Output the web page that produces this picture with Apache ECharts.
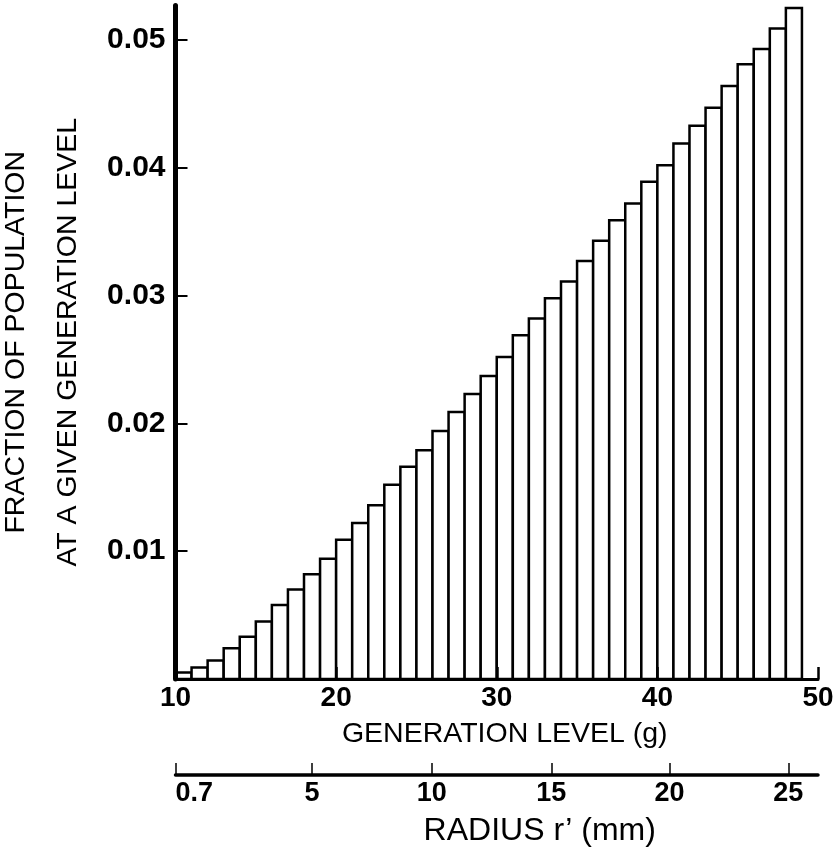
<!DOCTYPE html>
<html>
<head>
<meta charset="utf-8">
<script src="https://cdn.jsdelivr.net/npm/echarts@6/dist/echarts.min.js"></script>
<style>html,body{margin:0;padding:0;background:#fff;}#chart{width:840px;height:848px;}</style>
</head>
<body>
<div id="chart"></div>
<script>
// Generation levels (each bar spans g to g+1)
const generations = [10,11,12,13,14,15,16,17,18,19,20,21,22,23,24,25,26,27,28,29,30,31,32,33,34,35,36,37,38,39,40,41,42,43,44,45,46,47,48];
// Fraction of population at each generation level
const fractions = [0.0005,0.0009,0.00145,0.0024,0.0033,0.0045,0.0058,0.0070,0.0082,0.0094,
  0.0109,0.0122,0.0136,0.0152,0.0166,0.0179,0.0194,0.0209,0.0223,0.0237,
  0.0252,0.0269,0.0282,0.0298,0.0311,0.0327,0.0343,0.0359,0.0372,0.0389,
  0.0402,0.0419,0.0433,0.0447,0.0464,0.0481,0.0493,0.0509,0.0525];
// Tick labels
const genTicks = [10,20,30,40,50];
const fracTicks = [0.01,0.02,0.03,0.04,0.05];
// Radius scale (nonlinear): labels and their generation positions
const radiusLabels = ['0.7','5','10','15','20','25'];
const radiusAtGen = [10,18.5,25.95,33.4,40.75,48.15];

const FONT = 'Liberation Sans';
const chart = echarts.init(document.getElementById('chart'), null, {renderer:'canvas'});
const option = {
  backgroundColor:'#fff',
  animation:false,
  grid:[
    {left:175.5, right:22, top:5.5, bottom:169, containLabel:false, outerBoundsMode:'none'},
    {left:175.5, right:22, top:770, height:5, containLabel:false, outerBoundsMode:'none'}
  ],
  xAxis:[
    {type:'value', gridIndex:0, min:10, max:50, z:5,
     name:'GENERATION LEVEL (g)', nameLocation:'middle', nameGap:41,
     nameTextStyle:{fontFamily:FONT, fontSize:28.5, color:'#000', padding:[0,0,0,16]},
     axisLine:{show:true, lineStyle:{color:'#000', width:3}},
     axisTick:{show:true, inside:true, length:12, lineStyle:{color:'#000', width:2.5}, customValues:[20,30,40,50]},
     axisLabel:{customValues:genTicks, margin:5, fontFamily:FONT, fontSize:28, fontWeight:'bold', color:'#000'},
     splitLine:{show:false}},
    {type:'value', gridIndex:1, min:10, max:50, z:5, position:'bottom',
     name:'RADIUS r’ (mm)', nameLocation:'middle', nameGap:40,
     nameTextStyle:{fontFamily:FONT, fontSize:32, color:'#000', padding:[0,0,0,86]},
     axisLine:{show:true, lineStyle:{color:'#000', width:3.5}},
     axisTick:{show:true, inside:true, length:12, lineStyle:{color:'#000', width:1.5}, customValues:radiusAtGen},
     axisLabel:{customValues:radiusAtGen, margin:5, fontFamily:FONT, fontSize:27, fontWeight:'bold', color:'#000',
       alignMinLabel:'left',
       formatter:function(v){ const i = radiusAtGen.indexOf(v); return i>=0 ? radiusLabels[i] : ''; }},
     splitLine:{show:false}}
  ],
  yAxis:[
    {type:'value', gridIndex:0, min:0, max:0.0527, z:5,
     name:'FRACTION OF POPULATION\nAT A GIVEN GENERATION LEVEL', nameLocation:'middle', nameGap:81,
     nameTextStyle:{fontFamily:FONT, fontSize:28.5, color:'#000', lineHeight:52, padding:[0,0,0,0]},
     axisLine:{show:true, lineStyle:{color:'#000', width:5}},
     axisTick:{show:true, inside:true, length:12, lineStyle:{color:'#000', width:2}, customValues:fracTicks},
     axisLabel:{customValues:fracTicks, margin:10, fontFamily:FONT, fontSize:30, fontWeight:'bold', color:'#000',
       formatter:function(v){ return v.toFixed(2); }},
     splitLine:{show:false}},
    {type:'value', gridIndex:1, min:0, max:1, show:false}
  ],
  series:[{
    type:'custom', xAxisIndex:0, yAxisIndex:0, z:2,
    data: generations.map((g,i)=>[g, fractions[i]]),
    encode:{x:0, y:1},
    renderItem:function(params, api){
      const g = api.value(0), v = api.value(1);
      const p0 = api.coord([g, v]);
      const p1 = api.coord([g+1, 0]);
      return {type:'rect', shape:{x:p0[0], y:p0[1], width:p1[0]-p0[0], height:p1[1]-p0[1]},
        style:{fill:'#fff', stroke:'#000', lineWidth:2.5}};
    }
  }]
};
chart.setOption(option);
</script>
</body>
</html>
